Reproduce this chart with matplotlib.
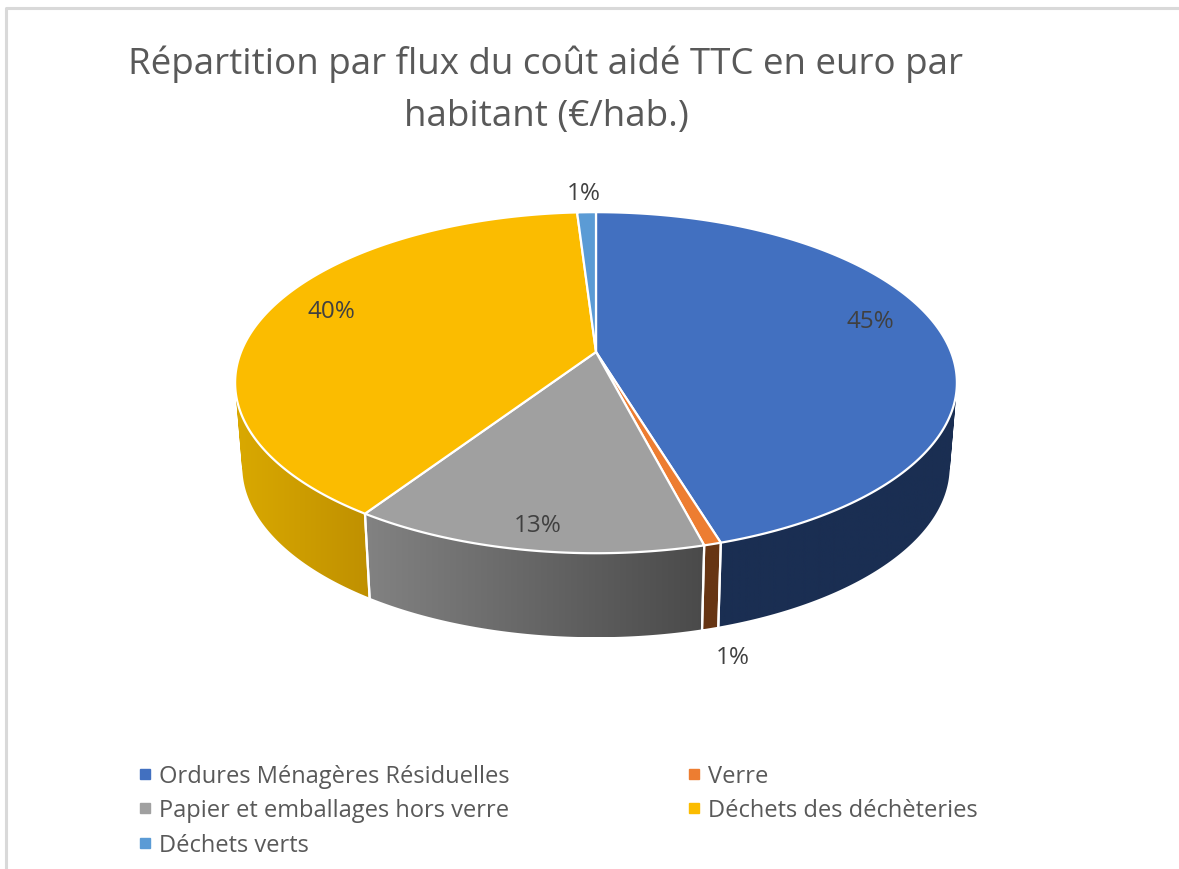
import numpy as np
import matplotlib
matplotlib.use("Agg")
import matplotlib.pyplot as plt
from matplotlib.patches import Polygon, PathPatch
from matplotlib.path import Path
from matplotlib.lines import Line2D
from matplotlib.colors import to_rgb

plt.rcParams['font.family'] = ['Open Sans', 'DejaVu Sans']

TITLE = "Répartition par flux du coût aidé TTC en euro par\nhabitant (€/hab.)"
categories = ["Ordures Ménagères Résiduelles", "Verre", "Papier et emballages hors verre",
              "Déchets des déchèteries", "Déchets verts"]
values = [45.3, 0.65, 13.38, 39.67, 1.0]
top_colors = ["#4270C0", "#ED7D31", "#A0A0A0", "#FBBC00", "#5B9BD5"]
wall_left = ["#1A2E52", "#673513", "#828282", "#DAA900", "#2F5F8F"]
wall_right = ["#1A2E52", "#673513", "#4A4A4A", "#BF9000", "#2F5F8F"]
label_pos = [(870, 322), (733, 658), (538, 526), (331, 312), (584, 194)]

TEXT = "#595959"
CX, CY, A, S, K = 596, 353, 355, 165, 0.18
DEPTH, SHRINK = 84, 0.98


def rim(theta):
    """theta in radians, clockwise from the top of the pie"""
    u, v = np.sin(theta), np.cos(theta)
    w = 1 + K * v
    return CX + A * u / w, CY - S * v / w


def lower(x, y):
    return CX + (x - CX) * SHRINK, y + DEPTH


def swept_path(xs, ys, bx, by):
    """Union of the quads swept between the top rim and the lower rim."""
    quads = []
    for j in range(len(xs) - 1):
        q = np.array([(xs[j], ys[j]), (xs[j + 1], ys[j + 1]),
                      (bx[j + 1], by[j + 1]), (bx[j], by[j]), (xs[j], ys[j])])
        area = np.sum(q[:-1, 0] * q[1:, 1] - q[1:, 0] * q[:-1, 1])
        if area < 0:
            q = q[::-1]
        quads.append(Path(q, closed=True))
    return Path.make_compound_path(*quads)


fig = plt.figure(figsize=(11.79, 8.70), dpi=100)
ax = fig.add_axes([0, 0, 1, 1])
ax.axis("off")

# chart frame
ax.plot([6, 6, 1179], [870, 9, 9], color="#D9D9D9", lw=2.2, solid_capstyle="butt", zorder=0)

edges = np.concatenate([[0], np.cumsum(values)]) / sum(values) * 2 * np.pi

# side walls
for i in range(len(values)):
    t0, t1 = max(edges[i], np.radians(80)), min(edges[i + 1], np.radians(280))
    if t1 <= t0:
        continue
    ts = np.linspace(t0, t1, 160)
    xs, ys = rim(ts)
    bx, by = lower(xs, ys)
    patch = PathPatch(swept_path(xs, ys, bx, by), fc="none", ec="none", zorder=2)
    ax.add_patch(patch)
    c_l, c_r = np.array(to_rgb(wall_left[i])), np.array(to_rgb(wall_right[i]))
    grad = np.linspace(0, 1, 256)[None, :, None]
    img = c_l[None, None, :] * (1 - grad) + c_r[None, None, :] * grad
    xl, xr = min(xs.min(), bx.min()), max(xs.max(), bx.max())
    yt, yb = min(ys.min(), by.min()), max(ys.max(), by.max())
    im = ax.imshow(img, extent=(xl, xr, yb, yt), aspect="auto", interpolation="bilinear", zorder=2)
    im.set_clip_path(patch)
    # white separators between wall pieces
    for t in (t0, t1):
        if np.radians(81) < t < np.radians(279):
            x, y = rim(np.array(t))
            bx0, by0 = lower(x, y)
            ax.plot([x, bx0], [y, by0], color="white", lw=1.6, zorder=3)

ax.set_xlim(0, 1179)
ax.set_ylim(870, 0)
ax.set_aspect("auto")

# top face
for i in range(len(values)):
    ts = np.linspace(edges[i], edges[i + 1], 200)
    xs, ys = rim(ts)
    pts = np.column_stack([np.r_[CX, xs], np.r_[CY, ys]])
    ax.add_patch(Polygon(pts, closed=True, fc=top_colors[i], ec="white", lw=1.6,
                         joinstyle="round", zorder=4))

# data labels
for v, (x, y) in zip(values, label_pos):
    ax.text(x, y, f"{round(v / sum(values) * 100):.0f}%", ha="center", va="center",
            fontsize=17.5, color="#404040", zorder=6)

line1, line2 = TITLE.split("\n")
ax.text(546, 64, line1, ha="center", va="center", fontsize=26.5, color=TEXT, zorder=6)
ax.text(546, 117, line2, ha="center", va="center", fontsize=26.5, color=TEXT, zorder=6)

# legend
order = [0, 2, 4, 1, 3]
handles = [Line2D([], [], ls="none", marker="s", ms=6.5, color=top_colors[i]) for i in order]
ax.legend(handles, [categories[i] for i in order], ncol=2, frameon=False,
          loc="upper left", bbox_to_anchor=(133 / 1179, 1 - 765 / 870), borderaxespad=0,
          borderpad=0, fontsize=17, labelcolor=TEXT, handletextpad=0.1, handlelength=1.0,
          columnspacing=7.3, labelspacing=0.44)

fig.savefig("out.png", dpi=100)
